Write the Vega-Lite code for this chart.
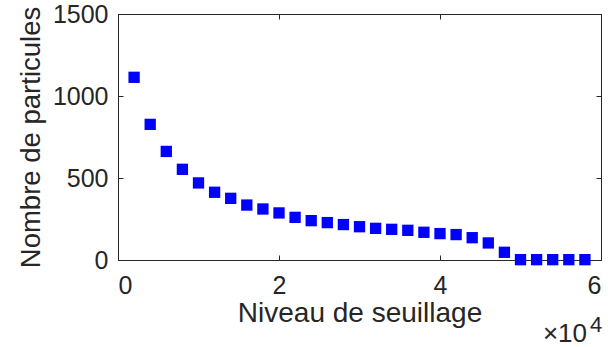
{
  "$schema": "https://vega.github.io/schema/vega-lite/v6.json",
  "width": 483,
  "height": 246,
  "autosize": {"type": "none"},
  "padding": {"left": 118, "top": 14, "right": 7, "bottom": 87},
  "background": "white",
  "config": {
    "view": {"stroke": "#262626", "strokeWidth": 1},
    "font": "Liberation Sans",
    "axis": {
      "grid": false,
      "domainColor": "#262626",
      "tickColor": "#262626",
      "labelColor": "#262626",
      "titleColor": "#262626",
      "labelFont": "Liberation Sans",
      "titleFont": "Liberation Sans",
      "labelFontSize": 25,
      "titleFontSize": 27.5,
      "titleFontWeight": "normal",
      "tickSize": -5,
      "domainWidth": 1
    }
  },
  "data": {
    "values": [
      {"seuil": 2000, "nombre": 1114},
      {"seuil": 4000, "nombre": 827},
      {"seuil": 6000, "nombre": 662},
      {"seuil": 8000, "nombre": 553},
      {"seuil": 10000, "nombre": 470},
      {"seuil": 12000, "nombre": 413},
      {"seuil": 14000, "nombre": 376},
      {"seuil": 16000, "nombre": 335},
      {"seuil": 18000, "nombre": 311},
      {"seuil": 20000, "nombre": 287},
      {"seuil": 22000, "nombre": 260},
      {"seuil": 24000, "nombre": 240},
      {"seuil": 26000, "nombre": 228},
      {"seuil": 28000, "nombre": 216},
      {"seuil": 30000, "nombre": 203},
      {"seuil": 32000, "nombre": 193},
      {"seuil": 34000, "nombre": 187},
      {"seuil": 36000, "nombre": 181},
      {"seuil": 38000, "nombre": 169},
      {"seuil": 40000, "nombre": 161},
      {"seuil": 42000, "nombre": 155},
      {"seuil": 44000, "nombre": 136},
      {"seuil": 46000, "nombre": 104},
      {"seuil": 48000, "nombre": 47},
      {"seuil": 50000, "nombre": 2},
      {"seuil": 52000, "nombre": 2},
      {"seuil": 54000, "nombre": 2},
      {"seuil": 56000, "nombre": 2},
      {"seuil": 58000, "nombre": 2}
    ]
  },
  "layer": [
    {
      "mark": {"type": "point", "shape": "square", "filled": true, "size": 128, "color": "#0000ff", "opacity": 1, "clip": false},
      "encoding": {
        "x": {
          "field": "seuil", "type": "quantitative",
          "scale": {"domain": [0, 60000], "nice": false, "zero": false},
          "axis": {"orient": "bottom", "values": [0, 20000, 40000, 60000], "labelExpr": "datum.value / 10000", "title": "Niveau de seuillage", "titleFontSize": 28, "labelPadding": 18, "titlePadding": 1}
        },
        "y": {
          "field": "nombre", "type": "quantitative",
          "scale": {"domain": [0, 1500], "nice": false, "zero": false},
          "axis": {"orient": "left", "values": [0, 500, 1000, 1500], "format": "d", "title": "Nombre de particules", "labelPadding": 15, "titlePadding": 7}
        }
      }
    },
    {
      "mark": {"type": "point", "opacity": 0},
      "encoding": {
        "x": {"field": "seuil", "type": "quantitative", "scale": {"domain": [0, 60000], "nice": false, "zero": false},
          "axis": {"orient": "top", "values": [0, 20000, 40000, 60000], "labels": false, "title": null}},
        "y": {"field": "nombre", "type": "quantitative", "scale": {"domain": [0, 1500], "nice": false, "zero": false},
          "axis": {"orient": "right", "values": [0, 500, 1000, 1500], "labels": false, "title": null}}
      }
    },
    {
      "data": {"values": [{"t": "×10"}]},
      "mark": {"type": "text", "align": "right", "baseline": "alphabetic", "fontSize": 26, "font": "Liberation Sans", "color": "#262626", "dx": -14, "dy": 82},
      "encoding": {
        "x": {"datum": 60000, "type": "quantitative", "axis": null},
        "y": {"datum": 0, "type": "quantitative", "axis": null},
        "text": {"field": "t"}
      }
    },
    {
      "data": {"values": [{"t": "4"}]},
      "mark": {"type": "text", "align": "left", "baseline": "alphabetic", "fontSize": 22, "font": "Liberation Sans", "color": "#262626", "dx": -11, "dy": 72},
      "encoding": {
        "x": {"datum": 60000, "type": "quantitative", "axis": null},
        "y": {"datum": 0, "type": "quantitative", "axis": null},
        "text": {"field": "t"}
      }
    }
  ],
  "resolve": {"axis": {"x": "independent", "y": "independent"}}
}
